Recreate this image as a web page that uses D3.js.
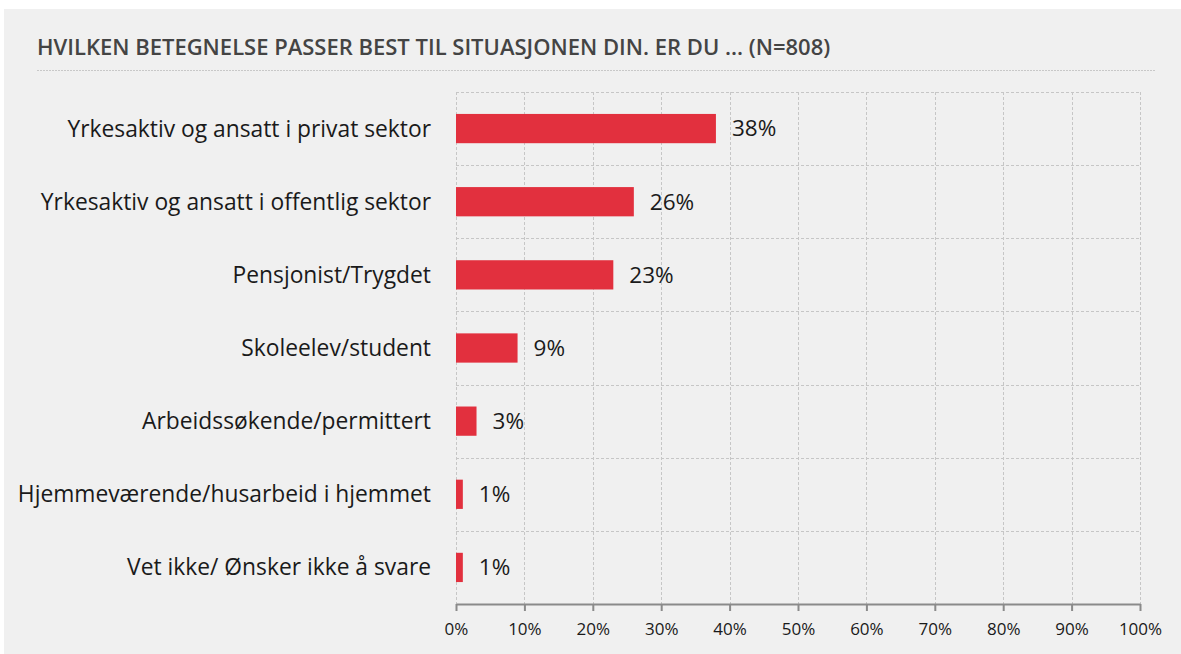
<!DOCTYPE html>
<html>
<head>
<meta charset="utf-8">
<script src="https://cdn.jsdelivr.net/npm/d3@7"></script>
<style>
  body { margin: 0; background: #fff; }
  svg { display: block; font-family: "Open Sans", "Noto Sans", sans-serif; }
</style>
</head>
<body>
<svg id="chart"></svg>
<script>
// chart data
const title = 'HVILKEN BETEGNELSE PASSER BEST TIL SITUASJONEN DIN. ER DU ... (N=808)';
const categories = [
  'Yrkesaktiv og ansatt i privat sektor',
  'Yrkesaktiv og ansatt i offentlig sektor',
  'Pensjonist/Trygdet',
  'Skoleelev/student',
  'Arbeidssøkende/permittert',
  'Hjemmeværende/husarbeid i hjemmet',
  'Vet ikke/ Ønsker ikke å svare'
];
const values = [38, 26, 23, 9, 3, 1, 1];
const xTicks = [0, 10, 20, 30, 40, 50, 60, 70, 80, 90, 100];

const W = 1181, H = 654;
const margin = {top: 92, left: 456, right: 41, bottom: 50};

const svg = d3.select('#chart')
  .attr('width', W)
  .attr('height', H);

// grey panel
svg.append('rect')
  .attr('x', 4).attr('y', 9)
  .attr('width', W - 4).attr('height', H - 9)
  .attr('fill', '#f0f0f0');

svg.append('text')
  .attr('x', 37).attr('y', 55)
  .attr('fill', '#444')
  .style('font-size', '22px')
  .style('font-weight', 600)
  .text(title);

svg.append('line')
  .attr('x1', 37).attr('x2', 1156)
  .attr('y1', 70.5).attr('y2', 70.5)
  .attr('stroke', '#c8c8c8')
  .attr('stroke-dasharray', '2,1');

const x = d3.scaleLinear()
  .domain([0, 100])
  .range([margin.left, W - margin.right]);

const y = d3.scaleBand()
  .domain(categories)
  .range([margin.top, H - margin.bottom])
  .paddingInner(0.6)
  .paddingOuter(0.3);

const plotBottom = H - margin.bottom;

// gridlines
const grid = svg.append('g')
  .attr('stroke', '#c6c6c6')
  .attr('stroke-dasharray', '3,2');

grid.selectAll('.vgrid')
  .data(xTicks)
  .join('line')
    .attr('x1', d => Math.round(x(d)) + 0.5)
    .attr('x2', d => Math.round(x(d)) + 0.5)
    .attr('y1', margin.top)
    .attr('y2', plotBottom);

const step = y.step();
const bounds = d3.range(categories.length).map(i => margin.top + i * step);
grid.selectAll('.hgrid')
  .data(bounds)
  .join('line')
    .attr('x1', margin.left)
    .attr('x2', W - margin.right)
    .attr('y1', d => Math.round(d) + 0.5)
    .attr('y2', d => Math.round(d) + 0.5);

// bars
svg.selectAll('.bar')
  .data(values)
  .join('rect')
    .attr('class', 'bar')
    .attr('x', x(0))
    .attr('y', (d, i) => y(categories[i]))
    .attr('width', d => x(d) - x(0))
    .attr('height', y.bandwidth())
    .attr('fill', '#e2303e');

// value labels
svg.selectAll('.val')
  .data(values)
  .join('text')
    .attr('x', d => x(d) + 16)
    .attr('y', (d, i) => y(categories[i]) + y.bandwidth() / 2)
    .attr('dy', '0.35em')
    .attr('fill', '#1a1a1a')
    .style('font-size', '22.5px')
    .text(d => d + '%');

// category labels
svg.selectAll('.cat')
  .data(categories)
  .join('text')
    .attr('x', 431)
    .attr('y', d => y(d) + y.bandwidth() / 2)
    .attr('dy', '0.35em')
    .attr('text-anchor', 'end')
    .attr('fill', '#1a1a1a')
    .style('font-size', '22.8px')
    .text(d => d);

// x axis
const xAxis = d3.axisBottom(x)
  .tickValues(xTicks)
  .tickFormat(d => d + '%')
  .tickSize(7)
  .tickSizeOuter(0)
  .tickPadding(12);

const gx = svg.append('g')
  .attr('transform', `translate(0, ${plotBottom})`)
  .call(xAxis);

gx.select('.domain').attr('stroke', '#8a8a8a').attr('stroke-width', 2);
gx.selectAll('.tick line').attr('stroke', '#8a8a8a').attr('stroke-width', 2);
gx.selectAll('.tick text')
  .attr('fill', '#1a1a1a')
  .style('font-size', '17px')
  .style('font-family', '"Open Sans", "Noto Sans", sans-serif');
</script>
</body>
</html>
